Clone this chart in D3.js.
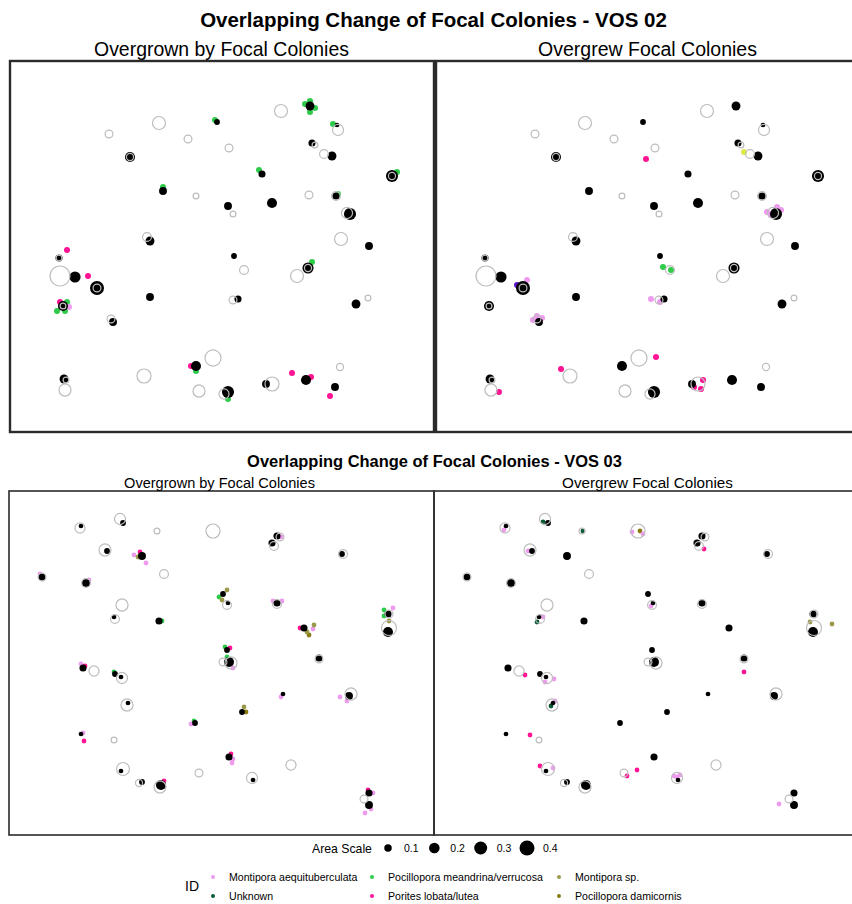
<!DOCTYPE html>
<html>
<head>
<meta charset="utf-8">
<script src="https://cdn.jsdelivr.net/npm/d3@7"></script>
<style>
  html, body { margin: 0; padding: 0; background: #fff; }
  svg { display: block; font-family: "Liberation Sans", Arial, sans-serif; }
</style>
</head>
<body>
<svg id="chart" width="852" height="904"></svg>
<script>
// ---- Species and colours -------------------------------------------------
const speciesCodes = ["MA", "UNK", "PMV", "PLL", "MSP", "PD"];
const speciesNames = {
  MA: "Montipora aequituberculata",
  UNK: "Unknown",
  PMV: "Pocillopora meandrina/verrucosa",
  PLL: "Porites lobata/lutea",
  MSP: "Montipora sp.",
  PD: "Pocillopora damicornis",
  OA: "Other A",
  OB: "Other B"
};
const speciesColors = {
  MA: "#EE9AEE", UNK: "#0B5A36", PMV: "#2FCB4A", PLL: "#FF1493",
  MSP: "#9A9A4A", PD: "#8B7A12", OA: "#DDEB46", OB: "#5A16C8"
};

// ---- VOS 02 (x, y in m; area in m²) -------------------------------------
const vos02Rings = [
  [2.98,6.18,0.30],[1.98,5.96,0.11],[3.56,5.86,0.11],[4.38,5.68,0.11],[5.42,6.42,0.30],
  [6.56,6.04,0.22],[2.40,5.50,0.09],[6.10,5.74,0.06],[6.28,5.56,0.14],[7.64,5.12,0.09],
  [3.72,4.72,0.06],[4.46,4.36,0.06],[5.98,4.74,0.11],[6.52,4.72,0.14],[6.74,4.38,0.22],
  [6.62,3.86,0.30],[2.74,3.90,0.14],[0.98,3.48,0.06],[1.00,3.12,0.71],[1.74,2.88,0.11],
  [1.06,2.52,0.06],[2.02,2.26,0.11],[4.68,3.24,0.14],[5.74,3.12,0.30],[5.96,3.28,0.09],
  [4.46,2.64,0.11],[7.16,2.68,0.06],[1.10,0.84,0.26],[1.12,1.04,0.06],[2.68,1.12,0.35],
  [4.06,1.48,0.46],[3.78,0.82,0.26],[4.28,0.76,0.18],[5.24,0.96,0.35],[6.60,1.30,0.09]
];
const vos02Focal = [
  [4.14,6.20,0.06],[6.00,6.52,0.14],[6.54,6.14,0.04],[2.40,5.50,0.18],[6.04,5.78,0.09],
  [6.44,5.52,0.14],[5.04,5.16,0.09],[7.64,5.12,0.26],[3.06,4.82,0.11],[4.36,4.52,0.11],
  [5.24,4.58,0.18],[6.52,4.72,0.09],[6.80,4.36,0.26],[2.80,3.82,0.14],[7.18,3.72,0.11],
  [0.98,3.48,0.09],[1.30,3.10,0.22],[1.74,2.88,0.35],[2.80,2.70,0.11],[1.06,2.52,0.18],
  [2.06,2.20,0.11],[4.48,3.52,0.06],[5.96,3.28,0.22],[4.56,2.66,0.09],[6.92,2.56,0.14],
  [1.08,1.06,0.14],[3.72,1.32,0.18],[4.36,0.80,0.26],[5.12,0.96,0.11],[5.92,1.04,0.18],
  [6.50,0.90,0.11]
];
const vos02Overgrown = [
  [4.10,6.24,"PMV"],[5.90,6.56,"PMV"],[6.10,6.48,"PMV"],[6.00,6.40,"PMV"],[6.00,6.62,"PMV"],
  [6.46,6.16,"PMV"],[4.98,5.24,"PMV"],[7.74,5.20,"PMV"],[3.06,4.90,"PMV"],[6.56,4.76,"PMV"],
  [6.04,3.40,"PMV"],[0.94,2.42,"PMV"],[1.10,2.42,"PMV"],[1.14,2.60,"PMV"],[3.72,1.22,"PMV"],
  [4.36,0.66,"PMV"],
  [1.14,3.64,"PLL"],[1.56,3.12,"PLL"],[1.00,2.60,"PLL"],[3.62,1.32,"PLL"],[5.64,1.18,"PLL"],
  [6.02,1.10,"PLL"],[6.40,0.72,"PLL"],
  [1.18,2.50,"MA"]
];
const vos02Overgrew = [
  [4.20,5.46,"PLL"],[6.16,5.60,"OA"],
  [6.62,4.40,"MA"],[6.82,4.50,"MA"],[6.90,4.44,"MA"],[6.70,4.34,"MA"],
  [1.62,2.94,"OB"],[1.82,3.04,"MA"],
  [1.94,2.24,"MA"],[2.02,2.32,"MA"],[2.12,2.28,"MA"],
  [4.54,3.30,"PMV"],[4.70,3.24,"PMV"],
  [4.30,2.66,"MA"],[4.48,2.60,"MA"],
  [1.26,0.80,"PLL"],[2.50,1.26,"PLL"],[4.40,1.50,"PLL"],
  [5.34,1.04,"PLL"],[5.30,0.86,"PLL"],[5.16,0.90,"PLL"]
];

// ---- VOS 03 ---------------------------------------------------------------
const vos03Rings = [
  [1.42,6.14,0.18],[2.22,6.32,0.22],[2.96,6.08,0.06],[4.08,6.08,0.35],[5.30,5.78,0.14],
  [5.42,5.96,0.11],[6.68,5.62,0.14],[1.92,5.70,0.26],[3.10,5.22,0.14],[2.26,4.60,0.26],
  [2.12,4.32,0.14],[4.36,4.60,0.14],[5.36,4.62,0.14],[7.60,4.14,0.40],[7.60,4.42,0.11],
  [4.28,3.46,0.11],[4.44,3.44,0.26],[6.20,3.52,0.11],[1.70,3.28,0.18],[2.26,3.14,0.22],
  [2.36,2.60,0.26],[6.84,2.82,0.26],[2.10,1.90,0.06],[5.64,1.40,0.18],[2.28,1.32,0.30],
  [3.80,1.24,0.11],[4.86,1.14,0.22],[2.60,1.04,0.09],[3.02,0.96,0.26],[7.10,0.72,0.11],
  [0.66,5.16,0.11],[1.54,5.04,0.14]
];
const vos03Focal = [
  [1.44,6.18,0.04],[2.28,6.24,0.06],[5.36,5.98,0.09],[5.26,5.84,0.09],[6.66,5.62,0.06],
  [1.96,5.68,0.06],[2.66,5.58,0.11],[0.66,5.16,0.09],[1.54,5.04,0.11],[2.10,4.36,0.04],
  [3.00,4.28,0.09],[4.28,4.82,0.06],[4.38,4.64,0.04],[5.36,4.64,0.09],[5.90,4.14,0.09],
  [7.58,4.42,0.09],[7.58,4.06,0.18],[4.36,3.70,0.06],[4.40,3.46,0.18],[6.20,3.54,0.09],
  [1.48,3.34,0.09],[2.12,3.22,0.06],[2.24,3.16,0.04],[2.38,2.64,0.04],[5.48,2.82,0.04],
  [6.80,2.78,0.11],[4.66,2.46,0.06],[3.72,2.24,0.06],[1.44,2.02,0.04],[4.40,1.56,0.09],
  [2.24,1.28,0.04],[4.88,1.10,0.04],[2.66,1.06,0.06],[3.04,1.00,0.18],[7.20,0.84,0.09],
  [7.20,0.60,0.11]
];
const vos03Overgrown = [
  [5.44,5.96,"MA"],[2.50,5.60,"MA"],[2.74,5.44,"MA"],[2.58,5.56,"MSP"],[2.62,5.66,"PLL"],
  [0.62,5.22,"MA"],[0.68,5.12,"MA"],[1.60,5.10,"MA"],[3.06,4.28,"PMV"],[4.20,4.76,"PMV"],
  [4.36,4.90,"MSP"],[4.26,4.70,"MSP"],[5.28,4.68,"MA"],[5.46,4.68,"MA"],[5.82,4.14,"PLL"],
  [6.08,4.12,"MA"],[6.10,4.20,"MSP"],[6.00,4.00,"PD"],[5.96,4.06,"MSP"],[7.50,4.50,"PMV"],
  [7.50,4.38,"PMV"],[7.68,4.54,"MA"],[7.60,4.28,"MSP"],[4.32,3.76,"PMV"],[4.42,3.74,"PLL"],
  [4.36,3.56,"PMV"],[4.48,3.34,"MA"],[1.44,3.42,"MA"],[1.52,3.38,"PLL"],[2.10,3.26,"PMV"],
  [5.44,2.76,"MA"],[6.62,2.76,"MA"],[6.76,2.68,"MA"],[4.70,2.56,"MSP"],[4.74,2.46,"PD"],
  [3.70,2.28,"PMV"],[3.64,2.22,"MA"],[1.48,2.04,"MA"],[1.50,1.88,"PLL"],[4.44,1.62,"PLL"],
  [4.48,1.52,"MA"],[4.46,1.44,"MA"],[3.10,1.08,"PLL"],[7.18,0.90,"PLL"],[7.28,0.84,"MA"],
  [7.12,0.44,"MA"],[7.24,0.52,"MA"]
];
const vos03Overgrew = [
  [1.40,6.10,"MA"],[2.18,6.26,"UNK"],[2.98,6.08,"UNK"],[3.96,6.06,"MA"],[4.12,6.08,"PD"],
  [4.18,6.02,"MA"],[5.40,5.72,"PLL"],[1.88,5.68,"MA"],[2.18,4.36,"MA"],[2.06,4.26,"UNK"],
  [4.34,4.58,"MA"],[7.52,4.26,"MSP"],[7.96,4.22,"MSP"],[1.82,3.20,"PLL"],[2.22,3.06,"MA"],
  [2.40,3.12,"MA"],[6.20,3.26,"PLL"],[2.34,2.58,"UNK"],[2.42,2.68,"MA"],[1.92,2.00,"PLL"],
  [2.12,1.38,"PLL"],[2.38,1.34,"MA"],[3.86,1.18,"PLL"],[4.06,1.30,"PLL"],[4.86,1.16,"MA"],
  [4.80,1.18,"MA"],[4.92,1.20,"MA"],[6.90,0.62,"MA"]
];

// ---- Legend content ----------------------------------------------------------
const areaTicks = [0.1, 0.2, 0.3, 0.4];

// ---- Drawing ---------------------------------------------------------------------
const svg = d3.select("#chart");
const rScale = d3.scaleSqrt().domain([0, 0.4]).range([0, 7.5]);

// Text helper: when a target width is given, the font size is tuned so the
// string's natural width fills it.
function addText(x, y, str, size, weight, width, anchor) {
  const t = svg.append("text")
    .attr("x", x).attr("y", y)
    .attr("text-anchor", anchor || "middle")
    .attr("font-size", size)
    .attr("font-weight", weight || "normal")
    .attr("fill", "#000")
    .text(str);
  if (width) {
    const natural = t.node().getComputedTextLength();
    if (natural > 0) t.attr("font-size", size * width / natural);
  }
  return t;
}

function drawPanel(cfg, colored) {
  const g = svg.append("g").attr("transform", `translate(${cfg.x0},${cfg.y0})`);
  const x = d3.scaleLinear().domain(cfg.xDomain).range([0, cfg.w]);
  const y = d3.scaleLinear().domain(cfg.yDomain).range([cfg.h, 0]);
  const clipId = "clip" + cfg.id;
  g.append("clipPath").attr("id", clipId)
    .append("rect").attr("width", cfg.w).attr("height", cfg.h);
  const plot = g.append("g").attr("clip-path", `url(#${clipId})`);

  plot.selectAll("circle.sp").data(colored).join("circle")
    .attr("class", "sp")
    .attr("cx", d => x(d[0])).attr("cy", d => y(d[1]))
    .attr("r", cfg.dotR)
    .attr("fill", d => speciesColors[d[2]]);

  plot.selectAll("circle.focal").data(cfg.focal).join("circle")
    .attr("class", "focal")
    .attr("cx", d => x(d[0])).attr("cy", d => y(d[1]))
    .attr("r", d => rScale(d[2]))
    .attr("fill", "#000");

  plot.selectAll("circle.ring").data(cfg.rings).join("circle")
    .attr("class", "ring")
    .attr("cx", d => x(d[0])).attr("cy", d => y(d[1]))
    .attr("r", d => rScale(d[2]))
    .attr("fill", "none")
    .attr("stroke", "#bdbdbd")
    .attr("stroke-width", 1.2);

  g.append("rect")
    .attr("width", cfg.w).attr("height", cfg.h)
    .attr("fill", "none")
    .attr("stroke", "#2b2b2b")
    .attr("stroke-width", cfg.border);
}

// VOS 02 row
const row02 = { y0: 61, h: 371, w: 424, xDomain: [0, 8.48], yDomain: [0, 7.42],
  rings: vos02Rings, focal: vos02Focal, dotR: 3, border: 2.4 };
drawPanel({ ...row02, id: "a", x0: 10 }, vos02Overgrown);
drawPanel({ ...row02, id: "b", x0: 436 }, vos02Overgrew);

// VOS 03 row
const row03 = { y0: 491, h: 344, w: 425, xDomain: [0, 8.5], yDomain: [0, 6.88],
  rings: vos03Rings, focal: vos03Focal, dotR: 2.4, border: 1.6 };
drawPanel({ ...row03, id: "c", x0: 9 }, vos03Overgrown);
drawPanel({ ...row03, id: "d", x0: 434 }, vos03Overgrew);

// Titles
addText(433.5, 27, "Overlapping Change of Focal Colonies - VOS 02", 20, "bold", 467);
addText(221.5, 56, "Overgrown by Focal Colonies", 17, "normal", 255);
addText(647.5, 56, "Overgrew Focal Colonies", 17, "normal", 219);
addText(434.5, 467, "Overlapping Change of Focal Colonies - VOS 03", 15, "bold", 375);
addText(219.5, 488, "Overgrown by Focal Colonies", 13, "normal", 191);
addText(647.5, 488, "Overgrew Focal Colonies", 13, "normal", 171);

// Area scale legend
addText(312, 853, "Area Scale", 13, "normal", 60, "start");
const areaX = d3.scalePoint().domain(areaTicks).range([388, 527]);
svg.selectAll("circle.area").data(areaTicks).join("circle")
  .attr("class", "area")
  .attr("cx", d => areaX(d)).attr("cy", 848)
  .attr("r", d => rScale(d)).attr("fill", "#000");
areaTicks.forEach(t => addText(areaX(t) + 16, 852, String(t), 10.5, "normal", null, "start"));

// Species legend
addText(185, 891, "ID", 14, "normal", null, "start");
const legendCols = [213, 372, 559];
const legendRows = [877, 896];
speciesCodes.forEach((code, i) => {
  const cx = legendCols[Math.floor(i / 2)];
  const cy = legendRows[i % 2];
  svg.append("circle").attr("cx", cx).attr("cy", cy).attr("r", 2)
    .attr("fill", speciesColors[code]);
  addText(cx + 16, cy + 4, speciesNames[code], 10.6, "normal", null, "start");
});
</script>
</body>
</html>
